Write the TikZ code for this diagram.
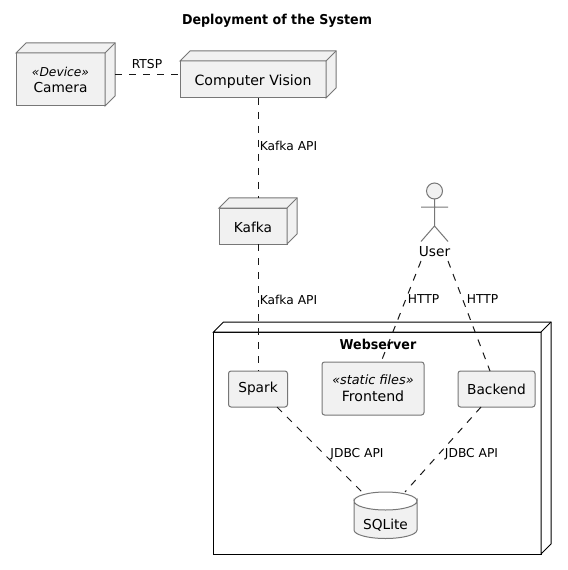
\documentclass[tikz,border=0pt]{standalone}
\usepackage{fontspec}
\setmainfont{DejaVu Sans}
\newfontfamily\headfont[FakeStretch=0.93]{DejaVu Sans Bold}
\definecolor{nodefill}{HTML}{F1F1F1}
\definecolor{nodeline}{HTML}{777777}
\definecolor{inkline}{HTML}{181818}
\tikzset{
  x=0.75pt,y=-0.75pt,
  every node/.style={inner sep=0pt,outer sep=0pt,align=center,text=black,font=\fontsize{10.3}{12.4}\selectfont},
  elem/.style={draw=nodeline,fill=nodefill,line width=0.75pt},
  cube/.style={elem,rectangle},
  compbox/.style={elem,rectangle,rounded corners=1.9pt},
  conn/.style={draw=inkline,line width=0.75pt,dash pattern=on 5.25pt off 5.25pt},
  connlabel/.style={font=\fontsize{9.2}{11}\selectfont},
  headlabel/.style={font=\fontsize{10.2}{12}\headfont},
}
\newcommand{\cubeside}[3]{%
  \path[#3] (#1.north west) -- ++(#2,-#2) -- ([shift={(#2,-#2)}]#1.north east) -- ([shift={(#2,-#2)}]#1.south east) -- (#1.south east) -- (#1.north east) -- cycle;
  \draw[#3,fill=none] (#1.north east) -- ++(#2,-#2);
}
\begin{document}
\begin{tikzpicture}
\useasboundingbox (0,0) rectangle (567,570);
\fill[white] (0,0) rectangle (567,570);

\node[headlabel] (title) at (277,20.5) {Deployment of the System};

% Webserver
\node[cube,draw=black,fill=white,minimum width=327.5*0.75pt,minimum height=222*0.75pt] (web) at (377.25,443) {};
\cubeside{web}{10}{draw=black,fill=white,line width=0.75pt}
\node[headlabel] (webl) at (378,344.5) {Webserver};

% Deployment nodes
\node[cube,minimum width=89*0.75pt,minimum height=53*0.75pt] (cam) at (60.5,79.5) {};
\cubeside{cam}{10}{elem}
\node (caml) at (60.5,80) {{\fontsize{9.2}{11}\selectfont\itshape «Device»}\\Camera};

\node[cube,minimum width=146*0.75pt,minimum height=37*0.75pt] (cv) at (253,79.5) {};
\cubeside{cv}{10}{elem}
\node[font=\fontsize{10.6}{12.4}\selectfont] (cvl) at (253,81.5) {Computer Vision};

\node[cube,minimum width=68*0.75pt,minimum height=36*0.75pt] (kafka) at (253,226) {};
\cubeside{kafka}{10}{elem}
\node (kafkal) at (253,227) {Kafka};

% Components
\node[compbox,minimum width=59*0.75pt,minimum height=36*0.75pt] (spark) at (258,389) {\raisebox{-0.9pt}{Spark}};
\node[compbox,minimum width=102*0.75pt,minimum height=53*0.75pt] (front) at (373,388.5) {{\fontsize{9.6}{11}\selectfont\itshape «static files»}\\{\fontsize{10.6}{12.4}\selectfont Frontend}};
\node[compbox,minimum width=77*0.75pt,minimum height=36*0.75pt] (back) at (496.5,389) {\raisebox{-0.9pt}{Backend}};

% Database
\path[elem] (354,501) arc[start angle=180,end angle=0,x radius=31.5,y radius=9] -- (417,530) arc[start angle=0,end angle=180,x radius=31.5,y radius=8.5] -- cycle;
\draw[elem,fill=none] (354,501) arc[start angle=180,end angle=360,x radius=31.5,y radius=9];
\node (db) at (385.5,525.5) {SQLite};
\coordinate (dbL) at (362,492);
\coordinate (dbR) at (405,492);

% Actor
\node[elem,circle,minimum size=16*0.75pt] (head) at (434.5,191) {};
\coordinate (armL) at (421,207);
\coordinate (armR) at (448,207);
\coordinate (hip) at (434.5,226);
\coordinate (legL) at (421,241.5);
\coordinate (legR) at (448,241.5);
\draw[draw=nodeline,line width=0.75pt] (head.south) -- (hip) (armL) -- (armR) (legL) -- (hip) -- (legR);
\node (user) at (434.5,252) {User};

% Connector ends
\coordinate (uL) at (421,261);
\coordinate (uR) at (448,261);
\coordinate (camE) at (115,74.5);
\coordinate (cvW) at (cv.west |- camE);
\coordinate (cvS) at (258.5,98);
\coordinate (kafN) at (258.5,198);
\coordinate (kafS) at (258.5,244);
\coordinate (sparkN) at (258.5,371);
\coordinate (frontN) at (381,362);
\coordinate (backN) at (490,371);
\coordinate (sparkS) at (277,407);
\coordinate (backS) at (481,407);

\draw[conn] (camE) -- (cvW);
\draw[conn] (cvS) -- (kafN);
\draw[conn] (kafS) -- (sparkN);
\draw[conn] (uL) -- (frontN);
\draw[conn] (uR) -- (backN);
\draw[conn] (sparkS) -- (dbL);
\draw[conn] (backS) -- (dbR);

% Labels
\node[connlabel] (lrtsp) at (147,64) {RTSP};
\node[connlabel] (lk1) at (288.5,145.5) {Kafka API};
\node[connlabel] (lk2) at (288.5,299.5) {Kafka API};
\node[connlabel] (lh1) at (423.5,299.5) {HTTP};
\node[connlabel] (lh2) at (482.5,299.5) {HTTP};
\node[connlabel] (lj1) at (357,454.5) {JDBC API};
\node[connlabel] (lj2) at (471.5,454.5) {JDBC API};
\end{tikzpicture}
\end{document}
